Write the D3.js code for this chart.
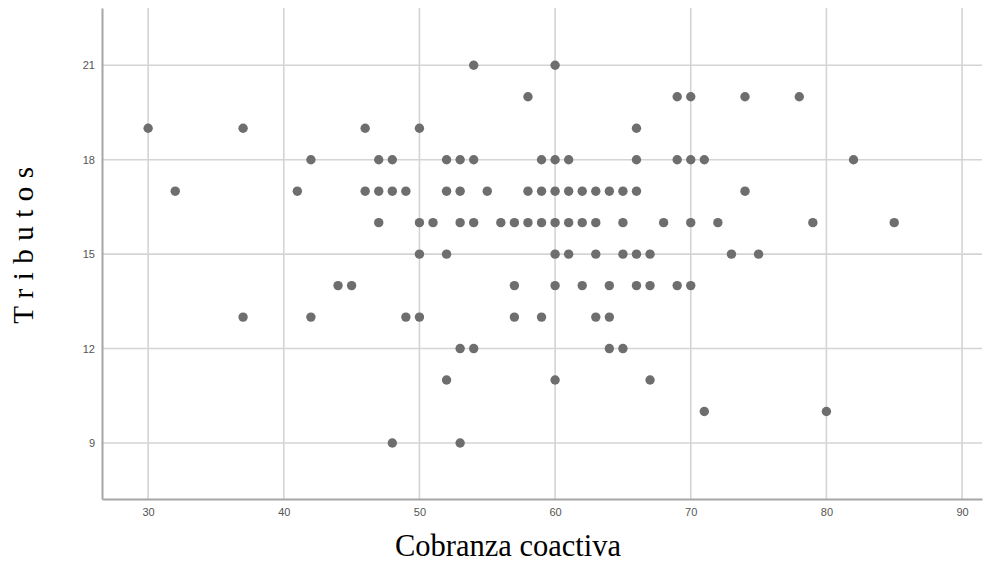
<!DOCTYPE html>
<html>
<head>
<meta charset="utf-8">
<script src="https://cdn.jsdelivr.net/npm/d3@7"></script>
<style>
    html, body { margin: 0; padding: 0; background: #fff; }
    svg { display: block; }
</style>
</head>
<body>
<svg id="chart" width="996" height="564"></svg>
<script>
// Tributos value of each row of points, and the Cobranza coactiva values found on it
const tributosRows = [21, 20, 19, 18, 17, 16, 15, 14, 13, 12, 11, 10, 9];
const cobranzaRows = [
    [54, 60],
    [58, 69, 70, 74, 78],
    [30, 37, 46, 50, 66],
    [42, 47, 48, 52, 53, 54, 59, 60, 61, 66, 69, 70, 71, 82],
    [32, 41, 46, 47, 48, 49, 52, 53, 55, 58, 59, 60, 61, 62, 63, 64, 65, 66, 74],
    [47, 50, 51, 53, 54, 56, 57, 58, 59, 60, 61, 62, 63, 65, 68, 70, 72, 79, 85],
    [50, 52, 60, 61, 63, 65, 66, 67, 73, 75],
    [44, 45, 57, 60, 62, 64, 66, 67, 69, 70],
    [37, 42, 49, 50, 57, 59, 63, 64],
    [53, 54, 64, 65],
    [52, 60, 67],
    [71, 80],
    [48, 53]
];
const xTicks = [30, 40, 50, 60, 70, 80, 90];
const yTicks = [9, 12, 15, 18, 21];

const xTitle = "Cobranza coactiva";
const yTitle = "Tributos";

// flatten rows into points
let points = [];
tributosRows.forEach((t, i) => {
    cobranzaRows[i].forEach(c => points.push({x: c, y: t}));
});

const svg = d3.select("#chart");

// plot frame
const frame = {left: 102, right: 982, top: 8, bottom: 499};

let x = d3.scaleLinear()
    .domain([26.6, 91.47])
    .range([frame.left, frame.right]);

let y = d3.scaleLinear()
    .domain([7.22, 22.82])
    .range([frame.bottom, frame.top]);

// Grid lines
let grid = svg.append("g").attr("class", "grid");

grid.selectAll("line.v")
    .data(xTicks)
    .enter()
    .append("line")
    .attr("class", "v")
    .attr("x1", d => x(d)).attr("x2", d => x(d))
    .attr("y1", frame.top).attr("y2", frame.bottom)
    .attr("stroke", "#d4d4d4")
    .attr("stroke-width", 1.6);

grid.selectAll("line.h")
    .data(yTicks)
    .enter()
    .append("line")
    .attr("class", "h")
    .attr("x1", frame.left).attr("x2", frame.right)
    .attr("y1", d => y(d)).attr("y2", d => y(d))
    .attr("stroke", "#d4d4d4")
    .attr("stroke-width", 1.6);

// Axes
let xAxis = svg.append("g")
    .attr("transform", "translate(0," + frame.bottom + ")")
    .call(d3.axisBottom(x).tickValues(xTicks).tickSize(0).tickPadding(9));

let yAxis = svg.append("g")
    .attr("transform", "translate(" + frame.left + ",0)")
    .call(d3.axisLeft(y).tickValues(yTicks).tickSize(0).tickPadding(7));

[xAxis, yAxis].forEach(a => {
    a.select(".domain")
        .attr("stroke", "#a6a6a6")
        .attr("stroke-width", 2);
    a.selectAll("text")
        .attr("fill", "#555")
        .style("font-family", "'Liberation Sans', Arial, sans-serif")
        .style("font-size", "11px");
});

// Points
svg.append("g")
    .attr("class", "points")
    .selectAll("circle")
    .data(points)
    .enter()
    .append("circle")
    .attr("cx", d => x(d.x))
    .attr("cy", d => y(d.y))
    .attr("r", 4.7)
    .attr("fill", "#6e6e6e");

// Axis titles
svg.append("text")
    .attr("x", 508)
    .attr("y", 556)
    .attr("text-anchor", "middle")
    .style("font-family", "'Liberation Serif', 'Times New Roman', serif")
    .style("font-size", "30.5px")
    .attr("fill", "#000")
    .text(xTitle);

svg.append("text")
    .attr("transform", "translate(33,241) rotate(-90)")
    .attr("text-anchor", "middle")
    .style("font-family", "'Liberation Serif', 'Times New Roman', serif")
    .style("font-size", "29px")
    .style("letter-spacing", "8.5px")
    .attr("fill", "#000")
    .text(yTitle);
</script>
</body>
</html>
